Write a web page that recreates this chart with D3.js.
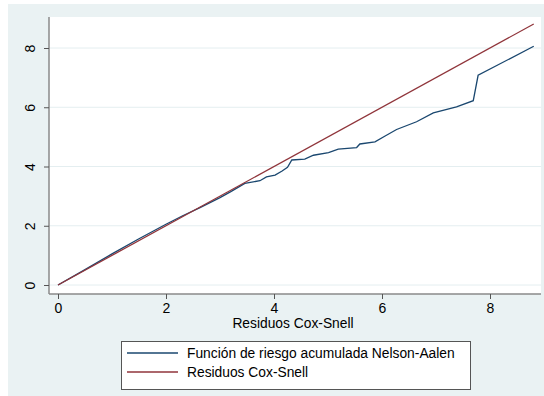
<!DOCTYPE html>
<html>
<head>
<meta charset="utf-8">
<script src="https://cdn.jsdelivr.net/npm/d3@7"></script>
<style>
  body { margin: 0; background: #fff; }
  svg { display: block; font-family: "Liberation Sans", Arial, sans-serif; }
</style>
</head>
<body>
<svg id="chart" width="544" height="396"></svg>
<script>
// Nelson-Aalen cumulative hazard vs Cox-Snell residuals
let naX = [0, 0.5, 1, 1.5, 2, 2.3, 2.63, 3, 3.2, 3.46, 3.74, 3.86, 4.02, 4.15, 4.25, 4.33, 4.57, 4.73,
  5.01, 5.19, 5.53, 5.59, 5.87, 6.05, 6.27, 6.64, 6.95, 7.38, 7.69, 7.78, 8.81];
let naY = [0, 0.52, 1.05, 1.56, 2.05, 2.33, 2.61, 2.95, 3.15, 3.43, 3.52, 3.65, 3.71, 3.85, 3.97, 4.22, 4.25, 4.38,
  4.47, 4.59, 4.64, 4.76, 4.83, 5.02, 5.25, 5.51, 5.81, 6.01, 6.22, 7.08, 8.06];
let csX = [0, 8.81];
let xTicks = [0, 2, 4, 6, 8];
let yTicks = [0, 2, 4, 6, 8];
let legendLabels = ["Función de riesgo acumulada Nelson-Aalen", "Residuos Cox-Snell"];
let xTitle = "Residuos Cox-Snell";

let svg = d3.select("#chart");
let plot = { left: 49, right: 541, top: 17, bottom: 294 };

// graph region
svg.append("rect").attr("x", 8).attr("y", 4).attr("width", 536).attr("height", 392)
  .attr("fill", "#eaf2f3");
svg.append("rect").attr("x", plot.left).attr("y", plot.top)
  .attr("width", plot.right - plot.left).attr("height", plot.bottom - plot.top)
  .attr("fill", "#fff");

let x = d3.scaleLinear().domain([0, 8]).range([58, 490]);
let y = d3.scaleLinear().domain([0, 8]).range([285, 48]);

// grid
svg.selectAll(".grid").data(yTicks).enter().append("line")
  .attr("x1", plot.left).attr("x2", plot.right)
  .attr("y1", d => y(d)).attr("y2", d => y(d))
  .attr("stroke", "#e4eef0").attr("stroke-width", 1);

// axes
let yAxis = svg.append("g").attr("transform", "translate(" + plot.left + ",0)")
  .call(d3.axisLeft(y).tickValues(yTicks).tickSize(5).tickPadding(0).tickFormat(d3.format("d")));
yAxis.select(".domain").attr("d", "M0," + plot.top + "V" + plot.bottom);
yAxis.selectAll(".tick text")
  .attr("transform", "rotate(-90)")
  .attr("x", 0).attr("y", -14).attr("dy", 0)
  .attr("text-anchor", "middle");

let xAxis = svg.append("g").attr("transform", "translate(0," + plot.bottom + ")")
  .call(d3.axisBottom(x).tickValues(xTicks).tickSize(5).tickPadding(4).tickFormat(d3.format("d")));
xAxis.select(".domain").attr("d", "M" + plot.left + ",0H" + plot.right);

svg.selectAll(".domain").attr("stroke", "#8a8a8a").attr("stroke-width", 1.5);
svg.selectAll(".tick line").attr("stroke", "#555");
svg.selectAll(".tick text").attr("font-size", 14).attr("fill", "#000")
  .style("font-family", "'Liberation Sans', Arial, sans-serif");

svg.append("text").attr("x", 293).attr("y", 328).attr("text-anchor", "middle")
  .attr("font-size", 13.8).text(xTitle);

// lines
let line = d3.line().x(d => x(d[0])).y(d => y(d[1]));
svg.append("path").datum(naX.map((v, i) => [v, naY[i]]))
  .attr("d", line).attr("fill", "none").attr("stroke", "#1a476f").attr("stroke-width", 1.3);
svg.append("path").datum(csX.map(v => [v, v]))
  .attr("d", line).attr("fill", "none").attr("stroke", "#90353b").attr("stroke-width", 1.3);

// legend
let colors = ["#1a476f", "#90353b"];
svg.append("rect").attr("x", 121.5).attr("y", 341.5).attr("width", 349).attr("height", 48)
  .attr("fill", "#fff").attr("stroke", "#555").attr("stroke-width", 1);
let lg = svg.selectAll(".lg").data(legendLabels).enter().append("g")
  .attr("transform", (d, i) => "translate(0," + (353 + i * 19) + ")");
lg.append("line").attr("x1", 127).attr("x2", 178).attr("y1", 0).attr("y2", 0)
  .attr("stroke", (d, i) => colors[i]).attr("stroke-width", 1.3);
lg.append("text").attr("x", 187).attr("y", 5).attr("font-size", 13.8).text(d => d);
</script>
</body>
</html>
